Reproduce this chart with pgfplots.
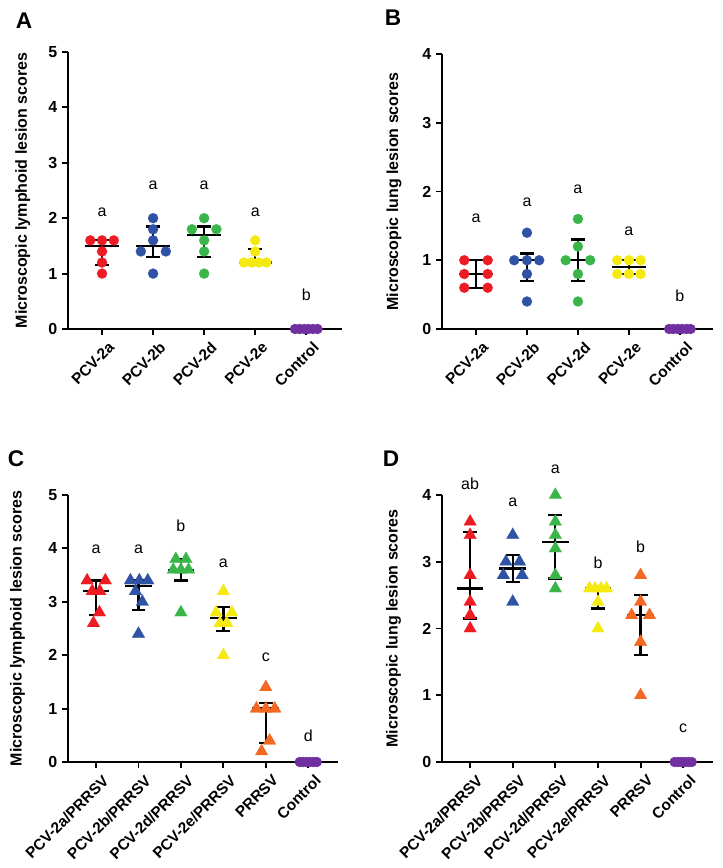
\documentclass[border=0pt]{standalone}
\usepackage{fontspec}
\setmainfont{Liberation Sans}
\usepackage{pgfplots}
\usepackage{pgfplotstable}
\pgfplotsset{compat=1.18}

\definecolor{cred}{RGB}{237,28,36}
\definecolor{cblue}{RGB}{47,82,164}
\definecolor{cgreen}{RGB}{57,181,74}
\definecolor{cyellow}{RGB}{244,234,18}
\definecolor{cpurple}{RGB}{112,48,160}
\definecolor{corange}{RGB}{243,104,34}

% summary tables: x, median, lower quartile, upper quartile
\pgfplotstableread{
x m lo hi
0 1.5 1.15 1.6
1 1.5 1.3 1.85
2 1.7 1.3 1.85
3 1.2 1.2 1.45
}\sumA
\pgfplotstableread{
x m lo hi
0 0.8 0.6 1.0
1 1.0 0.7 1.1
2 1.0 0.7 1.3
3 0.9 0.8 1.0
}\sumB
\pgfplotstableread{
x m lo hi
0 3.2 2.75 3.4
1 3.3 2.85 3.4
2 3.6 3.4 3.8
3 2.7 2.45 2.9
4 1.0 0.35 1.1
}\sumC
\pgfplotstableread{
x m lo hi
0 2.6 2.15 3.45
1 2.9 2.7 3.1
2 3.3 2.75 3.7
3 2.6 2.3 2.6
4 2.2 1.6 2.5
}\sumD

\newcommand{\lblfont}{\bfseries\fontsize{12}{14}\selectfont}
\newcommand{\tkfont}{\bfseries\fontsize{12}{14}\selectfont}
\newcommand{\catfont}{\bfseries\fontsize{11.5}{13}\selectfont}
\tikzset{sig/.style={font=\fontsize{12}{14}\selectfont}}
\pgfplotsset{
  gp/.style={
    scale only axis, clip=false,
    axis x line=bottom, axis y line=left,
    axis line style={line width=1.4pt,-},
    every tick/.style={black,line width=1.4pt},
    tick align=outside, major tick length=4.5pt,
    /pgf/number format/assume math mode=true,
    yticklabel style={font=\tkfont},
    xticklabel style={font=\catfont, rotate=45, anchor=north east, inner sep=1pt, yshift=-5pt, xshift=1pt},
    ylabel style={font=\lblfont, anchor=center},
    ymin=0,
  },
  med/.style={black, only marks, mark=-, mark size=#1, mark options={line width=1.7pt},
    error bars/.cd, y dir=both, y explicit, error mark=-,
    error bar style={line width=1.7pt, black},
    error mark options={rotate=90, line width=1.7pt, mark size=5.2pt}},
  dot/.style={only marks, mark=*, mark size=3.8pt, mark options={fill=#1, draw=#1, line width=0.1pt}},
  tri/.style={only marks, mark=triangle*, mark size=5.5pt, mark options={fill=#1, draw=#1, line width=0.1pt}},
}

\begin{document}
\begin{tikzpicture}
\useasboundingbox (0,0) rectangle (541.5pt,651pt);

% ---------------- Panel A ----------------
\begin{axis}[gp, at={(51pt,404.25pt)}, anchor=south west,
  width=205.5pt, height=207.75pt,
  xmin=-0.667, xmax=4.7, ymax=5, ytick={0,1,2,3,4,5},
  xtick={0,1,2,3,4}, xticklabels={PCV-2a,PCV-2b,PCV-2d,PCV-2e,Control},
  ylabel={Microscopic lymphoid lesion scores},
  ylabel style={at={(axis description cs:-0.165,0.5)}}]
\addplot[med=12.5pt] table[x=x, y=m, y error plus expr=\thisrow{hi}-\thisrow{m}, y error minus expr=\thisrow{m}-\thisrow{lo}] {\sumA};
\addplot[dot=cred] coordinates {(-0.23,1.6) (0,1.6) (0.23,1.6) (0,1.4) (0,1.2) (0,1.0)};
\addplot[dot=cblue] coordinates {(1,2.0) (1,1.8) (1,1.6) (0.76,1.4) (1.25,1.4) (1,1.0)};
\addplot[dot=cgreen] coordinates {(2,2.0) (1.76,1.8) (2.24,1.8) (2,1.6) (2,1.4) (2,1.0)};
\addplot[dot=cyellow] coordinates {(3,1.6) (3,1.4) (2.78,1.2) (2.93,1.2) (3.07,1.2) (3.22,1.2)};
\addplot[dot=cpurple] coordinates {(3.78,0) (3.87,0) (3.96,0) (4.04,0) (4.13,0) (4.22,0)};
\node[sig] at (axis cs:0,2.1) {a};
\node[sig] at (axis cs:1,2.6) {a};
\node[sig] at (axis cs:2,2.6) {a};
\node[sig] at (axis cs:3,2.1) {a};
\node[sig] at (axis cs:4,0.62) {b};
\end{axis}

% ---------------- Panel B ----------------
\begin{axis}[gp, at={(331.5pt,404.25pt)}, anchor=south west,
  width=203.25pt, height=206.25pt,
  xmin=-0.667, xmax=4.65, ymax=4, ytick={0,1,2,3,4},
  xtick={0,1,2,3,4}, xticklabels={PCV-2a,PCV-2b,PCV-2d,PCV-2e,Control},
  ylabel={Microscopic lung lesion scores},
  ylabel style={at={(axis description cs:-0.177,0.5)}}]
\addplot[med=12.5pt] table[x=x, y=m, y error plus expr=\thisrow{hi}-\thisrow{m}, y error minus expr=\thisrow{m}-\thisrow{lo}] {\sumB};
\addplot[dot=cred] coordinates {(-0.23,1.0) (0.23,1.0) (-0.23,0.8) (0.23,0.8) (-0.23,0.6) (0.23,0.6)};
\addplot[dot=cblue] coordinates {(1,1.4) (0.75,1.0) (1,1.0) (1.24,1.0) (1,0.8) (1,0.4)};
\addplot[dot=cgreen] coordinates {(2,1.6) (2,1.2) (1.76,1.0) (2.24,1.0) (2,0.8) (2,0.4)};
\addplot[dot=cyellow] coordinates {(2.77,1.0) (3,1.0) (3.23,1.0) (2.77,0.8) (3,0.8) (3.23,0.8)};
\addplot[dot=cpurple] coordinates {(3.79,0) (3.87,0) (3.96,0) (4.04,0) (4.13,0) (4.21,0)};
\node[sig] at (axis cs:0,1.61) {a};
\node[sig] at (axis cs:1,1.85) {a};
\node[sig] at (axis cs:2,2.03) {a};
\node[sig] at (axis cs:3,1.42) {a};
\node[sig] at (axis cs:4,0.48) {b};
\end{axis}

% ---------------- Panel C ----------------
\begin{axis}[gp, at={(51pt,79.5pt)}, anchor=south west,
  width=202.5pt, height=200.25pt,
  xmin=-0.66, xmax=5.7, ymax=5, ytick={0,1,2,3,4,5},
  xtick={0,1,2,3,4,5}, xticklabels={PCV-2a/PRRSV,PCV-2b/PRRSV,PCV-2d/PRRSV,PCV-2e/PRRSV,PRRSV,Control},
  ylabel={Microscopic lymphoid lesion scores},
  ylabel style={at={(axis description cs:-0.187,0.5)}}]
\addplot[med=10pt] table[x=x, y=m, y error plus expr=\thisrow{hi}-\thisrow{m}, y error minus expr=\thisrow{m}-\thisrow{lo}] {\sumC};
\addplot[tri=cred] coordinates {(-0.21,3.4) (0.22,3.4) (-0.09,3.2) (0.09,3.2) (0.08,2.8) (-0.06,2.6)};
\addplot[tri=cblue] coordinates {(0.81,3.4) (1.02,3.4) (1.22,3.4) (0.93,3.2) (1.09,3.0) (1.0,2.4)};
\addplot[tri=cgreen] coordinates {(1.88,3.8) (2.12,3.8) (1.82,3.6) (2,3.6) (2.18,3.6) (2,2.8)};
\addplot[tri=cyellow] coordinates {(3,3.2) (2.83,2.8) (3.2,2.8) (2.92,2.6) (3.08,2.6) (3,2.0)};
\addplot[tri=corange] coordinates {(4,1.4) (3.78,1.0) (4,1.0) (4.21,1.0) (4.09,0.4) (3.9,0.2)};
\addplot[dot=cpurple] coordinates {(4.8,0) (4.88,0) (4.96,0) (5.04,0) (5.12,0) (5.2,0)};
\node[sig] at (axis cs:0,3.98) {a};
\node[sig] at (axis cs:1,3.98) {a};
\node[sig] at (axis cs:2,4.43) {b};
\node[sig] at (axis cs:3,3.72) {a};
\node[sig] at (axis cs:4,1.97) {c};
\node[sig] at (axis cs:5,0.5) {d};
\end{axis}

% ---------------- Panel D ----------------
\begin{axis}[gp, at={(331.5pt,79.5pt)}, anchor=south west,
  width=203.25pt, height=200.25pt,
  xmin=-0.66, xmax=5.7, ymax=4, ytick={0,1,2,3,4},
  xtick={0,1,2,3,4,5}, xticklabels={PCV-2a/PRRSV,PCV-2b/PRRSV,PCV-2d/PRRSV,PCV-2e/PRRSV,PRRSV,Control},
  ylabel={Microscopic lung lesion scores},
  ylabel style={at={(axis description cs:-0.179,0.5)}}]
\addplot[med=10pt] table[x=x, y=m, y error plus expr=\thisrow{hi}-\thisrow{m}, y error minus expr=\thisrow{m}-\thisrow{lo}] {\sumD};
\addplot[tri=cred] coordinates {(0,3.6) (0,3.4) (0,2.8) (0,2.4) (0,2.2) (0,2.0)};
\addplot[tri=cblue] coordinates {(1,3.4) (0.84,3.0) (1.16,3.0) (0.78,2.8) (1.22,2.8) (1,2.4)};
\addplot[tri=cgreen] coordinates {(2,4.0) (2,3.6) (2,3.4) (2,3.2) (2,2.8) (2,2.6)};
\addplot[tri=cyellow] coordinates {(2.8,2.6) (2.93,2.6) (3.07,2.6) (3.2,2.6) (3,2.4) (3,2.0)};
\addplot[tri=corange] coordinates {(4,2.8) (4,2.4) (3.79,2.2) (4.21,2.2) (4,1.8) (4,1.0)};
\addplot[dot=cpurple] coordinates {(4.8,0) (4.88,0) (4.96,0) (5.04,0) (5.12,0) (5.2,0)};
\node[sig] at (axis cs:0,4.17) {ab};
\node[sig] at (axis cs:1,3.89) {a};
\node[sig] at (axis cs:2,4.39) {a};
\node[sig] at (axis cs:3,2.98) {b};
\node[sig] at (axis cs:4,3.23) {b};
\node[sig] at (axis cs:5,0.5) {c};
\end{axis}

\node[font=\bfseries\fontsize{17}{19}\selectfont] at (18pt,635.25pt) {A};
\node[font=\bfseries\fontsize{17}{19}\selectfont] at (294.75pt,637.5pt) {B};
\node[font=\bfseries\fontsize{17}{19}\selectfont] at (12pt,306.75pt) {C};
\node[font=\bfseries\fontsize{17}{19}\selectfont] at (293.25pt,306.75pt) {D};
\end{tikzpicture}
\end{document}
